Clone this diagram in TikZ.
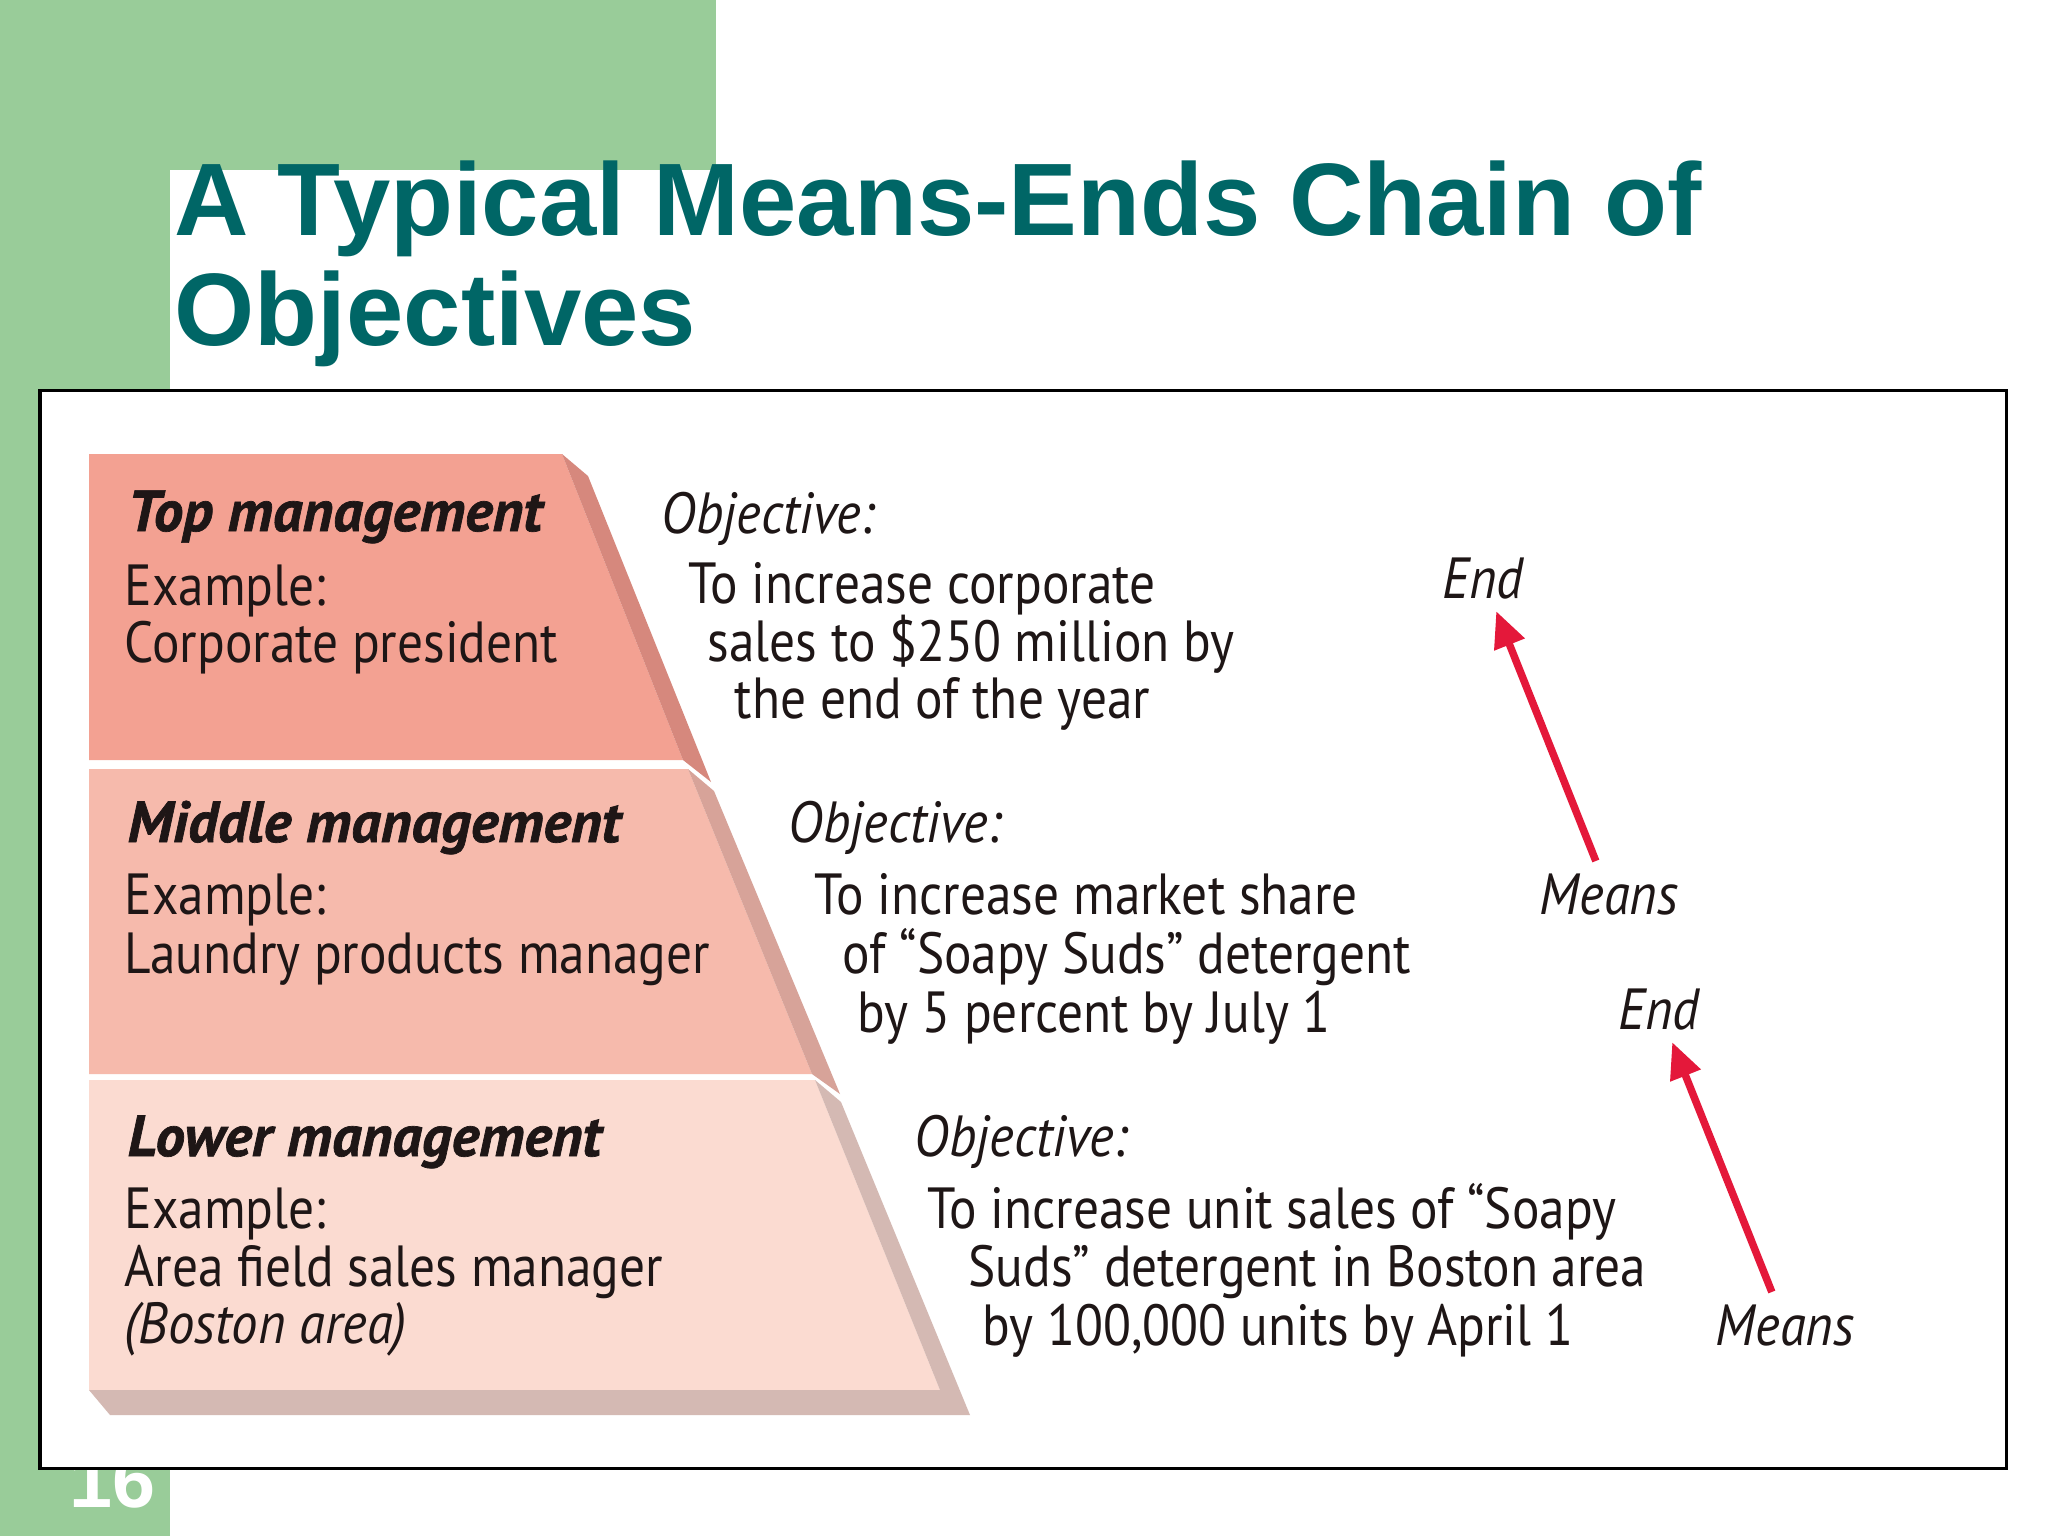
\documentclass[tikz,border=0pt]{standalone}
\usepackage{fontspec}
\setmainfont{Liberation Sans}
\newfontfamily\labelfont{PT Sans}[
  UprightFeatures={FakeStretch=0.885},
  ItalicFeatures={FakeStretch=0.91},
  BoldItalicFeatures={FakeStretch=1.015, FakeBold=1.2}]
\usetikzlibrary{arrows.meta}

\definecolor{slidegreen}{RGB}{153,204,153}
\definecolor{titleteal}{RGB}{0,102,102}
\definecolor{topface}{RGB}{243,161,146}
\definecolor{topside}{RGB}{214,136,125}
\definecolor{midface}{RGB}{246,186,172}
\definecolor{midside}{RGB}{215,163,153}
\definecolor{lowface}{RGB}{251,219,209}
\definecolor{lowside}{RGB}{212,185,179}
\definecolor{chainred}{RGB}{228,24,58}
\definecolor{ink}{RGB}{30,22,22}

\tikzset{
  tierhead/.style={anchor=base west, inner sep=0pt, text=ink, font=\labelfont\fontsize{16.5pt}{19pt}\selectfont\bfseries\itshape},
  tiertext/.style={anchor=base west, inner sep=0pt, text=ink, font=\labelfont\fontsize{16.5pt}{19pt}\selectfont},
  objhead/.style={tiertext, font=\labelfont\fontsize{16.5pt}{19pt}\selectfont\itshape},
  chainword/.style={anchor=base, text=ink, font=\labelfont\fontsize{16.5pt}{19pt}\selectfont\itshape},
  chainarrow/.style={draw=chainred, line width=0.075cm, -{Triangle[length=0.36cm,width=0.31cm]}},
  titleline/.style={anchor=base west, inner sep=0pt, text=titleteal, font=\fontsize{29.3pt}{31pt}\selectfont\bfseries}
}

\begin{document}
\begin{tikzpicture}[x=0.01cm, y=-0.01cm]
  \useasboundingbox (0,0) rectangle (2048,1536);
  % slide background
  \fill[slidegreen] (0,0) rectangle (170,1536);
  \fill[slidegreen] (0,0) rectangle (716,170);
  \fill[white] (170,1536) [rounded corners=0.6cm] -- (170,170) [sharp corners] -- (2048,170) -- (2048,1536) -- cycle;
  \node[text=white, font=\fontsize{22pt}{24pt}\selectfont\bfseries, anchor=base] (slideno) at (113,1507) {16};
  \draw[line width=0.03cm, fill=white] (40,390) rectangle (2006,1468);

  \node[titleline] (title1) at (174,235) {A Typical Means-Ends Chain of};
  \node[titleline] (title2) at (174,345) {Objectives};

  % the three levels
  \fill[topface] (89,454) -- (562,454) -- (683,760) -- (89,760) -- cycle;
  \fill[topside] (562,454) -- (588,476) -- (711,782) -- (683,760) -- cycle;
  \fill[midface] (89,769) -- (688,769) -- (812,1074) -- (89,1074) -- cycle;
  \fill[midside] (688,769) -- (714,791) -- (840,1094) -- (812,1074) -- cycle;
  \fill[lowface] (89,1080) -- (815,1080) -- (940,1390) -- (89,1390) -- cycle;
  \fill[lowside] (815,1080) -- (841,1102) -- (970,1415) -- (110,1415) -- (89,1390) -- (940,1390) -- cycle;

  \node[tierhead] (tophead) at (127,531) {Top management};
  \node[tiertext] (topex) at (124,605) {Example:};
  \node[tiertext] (topwho) at (124,662) {Corporate president};

  \node[tierhead] (midhead) at (127,842) {Middle management};
  \node[tiertext] (midex) at (124,914) {Example:};
  \node[tiertext] (midwho) at (124,973) {Laundry products manager};

  \node[tierhead] (lowhead) at (127,1156) {Lower management};
  \node[tiertext] (lowex) at (124,1228) {Example:};
  \node[tiertext] (lowwho) at (124,1286) {Area field sales manager};
  \node[objhead] (lowarea) at (124,1343) {(Boston area)};

  % objectives
  \node[objhead] (obj1) at (661,533) {Objective:};
  \node[tiertext] (obj1a) at (688,603) {To increase corporate};
  \node[tiertext] (obj1b) at (707,661) {sales to \$250 million by};
  \node[tiertext] (obj1c) at (734,718) {the end of the year};

  \node[objhead] (obj2) at (788,842) {Objective:};
  \node[tiertext] (obj2a) at (814,914) {To increase market share};
  \node[tiertext] (obj2b) at (842,973) {of “Soapy Suds” detergent};
  \node[tiertext] (obj2c) at (857,1032) {by 5 percent by July 1};

  \node[objhead] (obj3) at (914,1156) {Objective:};
  \node[tiertext] (obj3a) at (927,1228) {To increase unit sales of “Soapy};
  \node[tiertext] (obj3b) at (968,1286) {Suds” detergent in Boston area};
  \node[tiertext] (obj3c) at (982,1345) {by 100,000 units by April 1};

  % means and ends
  \node[chainword] (end1) at (1483,598) {End};
  \node[chainword] (means1) at (1609,914) {Means};
  \node[chainword] (end2) at (1659,1029) {End};
  \node[chainword] (means2) at (1785,1345) {Means};
  \draw[chainarrow] (means1) -- (end1);
  \draw[chainarrow] (means2) -- (end2);
\end{tikzpicture}
\end{document}
